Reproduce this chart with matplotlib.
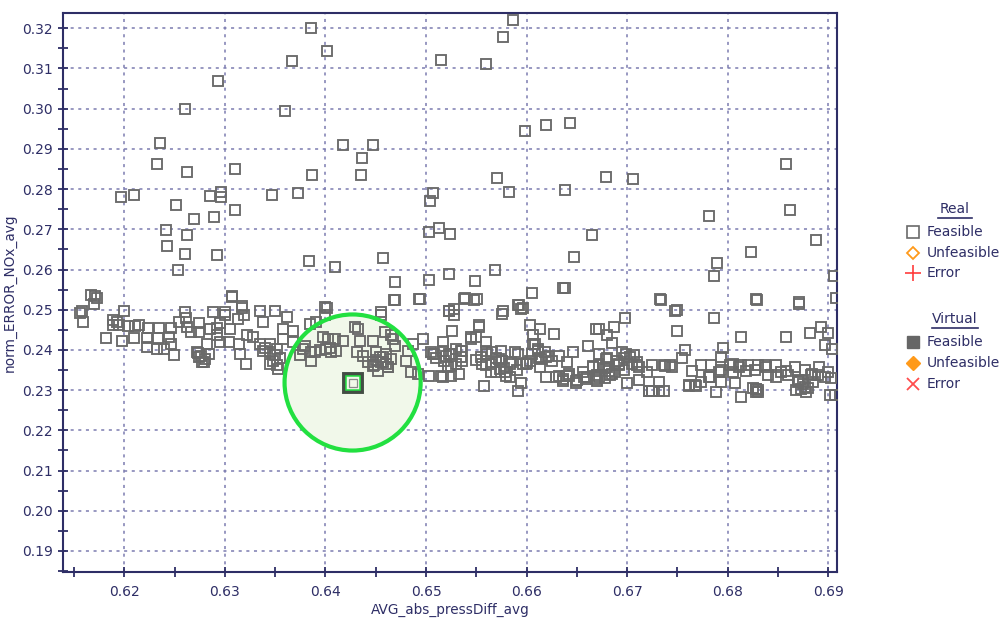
import matplotlib
matplotlib.use("Agg")
import matplotlib.pyplot as plt
from matplotlib.lines import Line2D
from matplotlib.ticker import MultipleLocator, FormatStrFormatter

# ---- data: feasible real designs (AVG_abs_pressDiff_avg, norm_ERROR_NOx_avg) ----
outlier_x = [0.6386, 0.6402, 0.6367, 0.6515, 0.6293, 0.6260, 0.6360, 0.6235, 0.6417, 0.6447,
             0.6436, 0.6232, 0.6262, 0.6310, 0.6387, 0.6435, 0.6197, 0.6210, 0.6251, 0.6269,
             0.6285, 0.6296, 0.6296, 0.6289, 0.6310, 0.6347, 0.6373, 0.6507, 0.6504, 0.6241,
             0.6262, 0.6242, 0.6260, 0.6292, 0.6253, 0.6384, 0.6409, 0.6457, 0.6503, 0.6513,
             0.6524, 0.6523, 0.6503, 0.6469, 0.6468, 0.6494, 0.6307, 0.6317,
             0.6587, 0.6577, 0.6560, 0.6598, 0.6619, 0.6643, 0.6858, 0.6571, 0.6583, 0.6679,
             0.6706, 0.6638, 0.6781, 0.6862, 0.6665, 0.6647, 0.6888, 0.6823, 0.6789, 0.6786,
             0.6569, 0.6549, 0.6539, 0.6551, 0.6605, 0.6638, 0.6592, 0.6596, 0.6734, 0.6829,
             0.6871, 0.6906, 0.6750, 0.6577, 0.6528, 0.6908]
outlier_y = [0.3201, 0.3144, 0.3118, 0.3122, 0.3068, 0.2998, 0.2994, 0.2915, 0.2910, 0.2910,
             0.2877, 0.2862, 0.2843, 0.2851, 0.2835, 0.2835, 0.2780, 0.2786, 0.2760, 0.2726,
             0.2783, 0.2793, 0.2780, 0.2731, 0.2749, 0.2786, 0.2790, 0.2790, 0.2771, 0.2699,
             0.2685, 0.2658, 0.2639, 0.2635, 0.2598, 0.2620, 0.2606, 0.2629, 0.2693, 0.2703,
             0.2688, 0.2589, 0.2575, 0.2568, 0.2523, 0.2527, 0.2534, 0.2509,
             0.3220, 0.3178, 0.3110, 0.2945, 0.2959, 0.2964, 0.2862, 0.2828, 0.2793, 0.2831,
             0.2824, 0.2797, 0.2734, 0.2748, 0.2685, 0.2632, 0.2673, 0.2644, 0.2617, 0.2583,
             0.2598, 0.2572, 0.2530, 0.2527, 0.2542, 0.2553, 0.2511, 0.2504, 0.2523, 0.2523,
             0.2515, 0.2583, 0.2500, 0.2498, 0.2502, 0.2528]

band_x = [0.6167, 0.6171, 0.6173, 0.6170, 0.6156, 0.6159, 0.6200, 0.6189, 0.6193, 0.6195,
          0.6189, 0.6182, 0.6198, 0.6204, 0.6211, 0.6215, 0.6210, 0.6224, 0.6234, 0.6223,
          0.6233, 0.6223, 0.6232, 0.6239, 0.6244, 0.6246, 0.6246, 0.6249, 0.6254, 0.6261,
          0.6262, 0.6266, 0.6274, 0.6274, 0.6272, 0.6274, 0.6279, 0.6284, 0.6282, 0.6285,
          0.6292, 0.6292, 0.6295, 0.6300, 0.6295, 0.6304, 0.6307, 0.6305, 0.6313, 0.6317,
          0.6319, 0.6314, 0.6315, 0.6322, 0.6321, 0.6328, 0.6338, 0.6335, 0.6338, 0.6345,
          0.6345, 0.6350, 0.6352, 0.6353, 0.6358, 0.6362, 0.6358, 0.6368, 0.6368, 0.6378,
          0.6386, 0.6386, 0.6385, 0.6391, 0.6400, 0.6400, 0.6401, 0.6398, 0.6403,
          0.6158, 0.6260, 0.6288, 0.6300, 0.6335, 0.6402, 0.6455, 0.6523,
          0.6273, 0.6276, 0.6280, 0.6277, 0.6340, 0.6345, 0.6350, 0.6355, 0.6348, 0.6352,
          0.6380, 0.6390, 0.6395, 0.6405, 0.6410, 0.6375,
          # around the highlighted design and to the right
          0.6409, 0.6417, 0.6406, 0.6429, 0.6432, 0.6434, 0.6431, 0.6437, 0.6447, 0.6455,
          0.6459, 0.6465, 0.6467, 0.6469, 0.6450, 0.6454, 0.6457, 0.6460, 0.6452, 0.6462,
          0.6447, 0.6469, 0.6493, 0.6480, 0.6487, 0.6482, 0.6485, 0.6492, 0.6497, 0.6503,
          0.6508, 0.6515, 0.6517, 0.6520, 0.6523, 0.6528, 0.6526, 0.6525, 0.6530, 0.6533,
          0.6536, 0.6538, 0.6548, 0.6545, 0.6550, 0.6553, 0.6555, 0.6556, 0.6560, 0.6558,
          0.6566, 0.6570, 0.6570, 0.6575, 0.6576, 0.6576, 0.6580, 0.6584, 0.6588, 0.6591,
          0.6594, 0.6594, 0.6591, 0.6599, 0.6603, 0.6606, 0.6608, 0.6611, 0.6613, 0.6614,
          0.6621, 0.6627, 0.6632, 0.6636, 0.6642, 0.6636, 0.6646, 0.6649, 0.6661, 0.6657,
          0.6666, 0.6669, 0.6669,
          0.6450, 0.6455, 0.6460, 0.6448, 0.6465, 0.6457, 0.6442, 0.6462,
          0.6510, 0.6518, 0.6525, 0.6530, 0.6505, 0.6522, 0.6535,
          0.6550, 0.6560, 0.6570, 0.6578, 0.6585, 0.6565, 0.6590, 0.6600,
          0.6605, 0.6612, 0.6618, 0.6625, 0.6632, 0.6640,
          0.6640, 0.6650, 0.6660, 0.6670, 0.6678, 0.6685,
          0.6507, 0.6517, 0.6523, 0.6525, 0.6517, 0.6535, 0.6536, 0.6545, 0.6553, 0.6560,
          0.6561, 0.6565, 0.6573, 0.6574, 0.6579, 0.6584, 0.6591, 0.6596, 0.6603, 0.6606,
          0.6611, 0.6613, 0.6619, 0.6619, 0.6629, 0.6636, 0.6642, 0.6649, 0.6656, 0.6659,
          0.6666, 0.6672, 0.6679, 0.6682, 0.6692, 0.6699, 0.6705, 0.6712,
          # right part of the band
          0.6733, 0.6748, 0.6828, 0.6871, 0.6698, 0.6687, 0.6672, 0.6680, 0.6685, 0.6750,
          0.6786, 0.6813, 0.6858, 0.6882, 0.6893, 0.6900, 0.6897, 0.6904, 0.6758, 0.6795,
          0.6755, 0.6793, 0.6672, 0.6670, 0.6680, 0.6683, 0.6692, 0.6697, 0.6697, 0.6700,
          0.6707, 0.6710, 0.6712, 0.6720, 0.6725, 0.6725, 0.6732, 0.6737, 0.6743, 0.6737,
          0.6732, 0.6722, 0.6765, 0.6762, 0.6767, 0.6773, 0.6773, 0.6783, 0.6782, 0.6788,
          0.6793, 0.6793, 0.6802, 0.6805, 0.6807, 0.6813, 0.6813, 0.6820, 0.6827, 0.6830,
          0.6828, 0.6830, 0.6837, 0.6840, 0.6848, 0.6853, 0.6860, 0.6867, 0.6870, 0.6873,
          0.6878, 0.6877, 0.6883, 0.6890, 0.6900, 0.6903, 0.6902, 0.6907,
          0.6672, 0.6680, 0.6690, 0.6695, 0.6703, 0.6710, 0.6678, 0.6688,
          0.6870, 0.6875, 0.6880, 0.6868, 0.6885, 0.6825, 0.6830, 0.6828,
          0.6722, 0.6725, 0.6738, 0.6745, 0.6762, 0.6768, 0.6781, 0.6791, 0.6805, 0.6811,
          0.6818, 0.6828, 0.6838, 0.6848, 0.6858, 0.6871, 0.6877, 0.6884, 0.6891, 0.6897]
band_y = [0.2536, 0.2533, 0.2529, 0.2513, 0.2493, 0.2469, 0.2498, 0.2475, 0.2469, 0.2463,
          0.2463, 0.2429, 0.2423, 0.2459, 0.2459, 0.2463, 0.2429, 0.2455, 0.2455, 0.2430,
          0.2430, 0.2407, 0.2403, 0.2403, 0.2432, 0.2455, 0.2415, 0.2388, 0.2469, 0.2479,
          0.2457, 0.2444, 0.2468, 0.2444, 0.2396, 0.2382, 0.2369, 0.2390, 0.2415, 0.2453,
          0.2454, 0.2436, 0.2468, 0.2486, 0.2419, 0.2419, 0.2532, 0.2453, 0.2478, 0.2504,
          0.2486, 0.2415, 0.2390, 0.2436, 0.2365, 0.2432, 0.2469, 0.2415, 0.2398, 0.2415,
          0.2365, 0.2498, 0.2403, 0.2353, 0.2453, 0.2482, 0.2428, 0.2448, 0.2419, 0.2403,
          0.2394, 0.2373, 0.2465, 0.2469, 0.2507, 0.2486, 0.2403, 0.2432, 0.2428,
          0.2497, 0.2495, 0.2495, 0.2495, 0.2497, 0.2505, 0.2495, 0.2497,
          0.2392, 0.2385, 0.2378, 0.2370, 0.2405, 0.2395, 0.2388, 0.2380, 0.2372, 0.2362,
          0.2410, 0.2395, 0.2400, 0.2405, 0.2398, 0.2388,
          0.2428, 0.2423, 0.2394, 0.2457, 0.2453, 0.2423, 0.2394, 0.2386, 0.2423, 0.2486,
          0.2444, 0.2436, 0.2428, 0.2411, 0.2394, 0.2382, 0.2369, 0.2390, 0.2348, 0.2357,
          0.2361, 0.2523, 0.2526, 0.2373, 0.2415, 0.2398, 0.2344, 0.2340, 0.2428, 0.2336,
          0.2390, 0.2336, 0.2419, 0.2386, 0.2498, 0.2486, 0.2448, 0.2361, 0.2403, 0.2340,
          0.2398, 0.2527, 0.2523, 0.2428, 0.2432, 0.2461, 0.2382, 0.2365, 0.2398, 0.2311,
          0.2394, 0.2369, 0.2344, 0.2398, 0.2490, 0.2373, 0.2336, 0.2365, 0.2394, 0.2511,
          0.2503, 0.2319, 0.2298, 0.2365, 0.2461, 0.2436, 0.2415, 0.2403, 0.2453, 0.2378,
          0.2386, 0.2440, 0.2336, 0.2328, 0.2340, 0.2553, 0.2394, 0.2319, 0.2411, 0.2332,
          0.2361, 0.2453, 0.2328,
          0.2375, 0.2370, 0.2365, 0.2362, 0.2378, 0.2383, 0.2370, 0.2358,
          0.2380, 0.2372, 0.2390, 0.2365, 0.2395, 0.2358, 0.2382,
          0.2375, 0.2362, 0.2380, 0.2355, 0.2370, 0.2345, 0.2350, 0.2368,
          0.2390, 0.2380, 0.2395, 0.2372, 0.2385, 0.2370,
          0.2335, 0.2325, 0.2332, 0.2322, 0.2330, 0.2340,
          0.2390, 0.2398, 0.2390, 0.2336, 0.2332, 0.2398, 0.2373, 0.2432, 0.2457, 0.2419,
          0.2390, 0.2365, 0.2378, 0.2353, 0.2344, 0.2332, 0.2390, 0.2365, 0.2373, 0.2415,
          0.2398, 0.2357, 0.2382, 0.2332, 0.2332, 0.2323, 0.2336, 0.2323, 0.2344, 0.2327,
          0.2357, 0.2332, 0.2378, 0.2348, 0.2365, 0.2390, 0.2365, 0.2357,
          0.2527, 0.2498, 0.2527, 0.2518, 0.2479, 0.2458, 0.2452, 0.2438, 0.2417, 0.2447,
          0.2479, 0.2433, 0.2433, 0.2442, 0.2458, 0.2442, 0.2413, 0.2403, 0.2400, 0.2404,
          0.2379, 0.2383, 0.2363, 0.2338, 0.2358, 0.2338, 0.2363, 0.2379, 0.2350, 0.2317,
          0.2388, 0.2363, 0.2325, 0.2346, 0.2363, 0.2298, 0.2321, 0.2363, 0.2363, 0.2298,
          0.2298, 0.2298, 0.2348, 0.2314, 0.2314, 0.2363, 0.2321, 0.2363, 0.2333, 0.2296,
          0.2350, 0.2321, 0.2363, 0.2346, 0.2317, 0.2283, 0.2363, 0.2363, 0.2350, 0.2363,
          0.2304, 0.2296, 0.2363, 0.2338, 0.2363, 0.2346, 0.2338, 0.2358, 0.2321, 0.2304,
          0.2296, 0.2350, 0.2338, 0.2338, 0.2346, 0.2329, 0.2288, 0.2288,
          0.2390, 0.2380, 0.2372, 0.2395, 0.2383, 0.2370, 0.2355, 0.2345,
          0.2325, 0.2315, 0.2305, 0.2300, 0.2320, 0.2305, 0.2300, 0.2296,
          0.2298, 0.2298, 0.2361, 0.2357, 0.2311, 0.2311, 0.2332, 0.2344, 0.2365, 0.2357,
          0.2348, 0.2303, 0.2357, 0.2332, 0.2348, 0.2323, 0.2307, 0.2340, 0.2357, 0.2332]

# selected design
sel_x = [0.6427]
sel_y = [0.2319]

x_ticks = [0.62, 0.63, 0.64, 0.65, 0.66, 0.67, 0.68, 0.69]
y_ticks = [0.19, 0.20, 0.21, 0.22, 0.23, 0.24, 0.25, 0.26, 0.27, 0.28, 0.29, 0.30, 0.31, 0.32]

NAVY = "#2e2e66"
GRID = "#7c7cb0"
GRAY = "#6a6a6a"

fig = plt.figure(figsize=(10.03, 6.21), dpi=100)
ax = fig.add_axes([0.0633, 0.0794, 0.7715, 0.8992])

ax.set_xlim(0.61395, 0.6909)
ax.set_ylim(0.18485, 0.32372)
ax.set_xticks(x_ticks)
ax.set_yticks(y_ticks)
ax.xaxis.set_minor_locator(MultipleLocator(0.005))
ax.yaxis.set_minor_locator(MultipleLocator(0.005))
ax.xaxis.set_major_formatter(FormatStrFormatter("%.2f"))
ax.yaxis.set_major_formatter(FormatStrFormatter("%.2f"))
ax.tick_params(which="both", direction="inout", length=7, width=1.3, color=NAVY,
               labelcolor=NAVY, labelsize=10)
ax.tick_params(axis="x", pad=6)
ax.tick_params(axis="y", pad=4)
for sp in ax.spines.values():
    sp.set_color(NAVY)
    sp.set_linewidth(1.5)
ax.grid(True, which="major", color=GRID, linestyle=(0, (2, 3)), linewidth=1.1)
ax.set_axisbelow(True)

ax.set_xlabel("AVG_abs_pressDiff_avg", color=NAVY, fontsize=9.8, labelpad=3)
ax.set_ylabel("norm_ERROR_NOx_avg", color=NAVY, fontsize=9.8, labelpad=4)

# halo around the selected design (fill below, ring on top)
ax.scatter(sel_x, sel_y, s=9600, marker="o", facecolor="#f1f8ea", edgecolor="none", zorder=1.5)
ax.scatter(sel_x, sel_y, s=9600, marker="o", facecolor="none", edgecolor="#22e040",
           linewidth=3.0, zorder=4)

# feasible designs
ax.plot(outlier_x + band_x, outlier_y + band_y, linestyle="none", marker="s", markersize=6.5,
        markerfacecolor="none", markeredgecolor=GRAY, markeredgewidth=1.35, zorder=3)

# selected design marker
ax.plot(sel_x, sel_y, linestyle="none", marker="s", markersize=12.5, markerfacecolor="#f1f8ea",
        markeredgecolor="#434d44", markeredgewidth=2.8, zorder=5)
ax.plot(sel_x, sel_y, linestyle="none", marker="s", markersize=9.5, markerfacecolor="none",
        markeredgecolor="#22e040", markeredgewidth=1.1, zorder=6)
ax.plot(sel_x, sel_y, linestyle="none", marker="s", markersize=6.0, markerfacecolor="none",
        markeredgecolor="#8a8a8a", markeredgewidth=0.9, zorder=6)

# legend panel
def fx(px):
    return px / 1003.0

def fy(py):
    return 1.0 - py / 621.0

def title(text, cx, cy, half):
    fig.text(fx(cx), fy(cy), text, color=NAVY, fontsize=10, ha="center", va="center")
    fig.add_artist(Line2D([fx(cx - half), fx(cx + half)], [fy(cy + 9), fy(cy + 9)],
                          color=NAVY, linewidth=1.2))

def entry(marker, cy, text, **kw):
    fig.add_artist(Line2D([fx(913)], [fy(cy)], linestyle="none", marker=marker, **kw))
    fig.text(fx(927), fy(cy), text, color=NAVY, fontsize=10, ha="left", va="center")

title("Real", 955, 209, 17)
entry("s", 232, "Feasible", markersize=9, markerfacecolor="none", markeredgecolor=GRAY,
      markeredgewidth=1.2)
entry("D", 253, "Unfeasible", markersize=6.5, markerfacecolor="none", markeredgecolor="#ff9a1a",
      markeredgewidth=1.3)
entry("+", 273, "Error", markersize=11, markeredgecolor="#ff3c3c", markeredgewidth=1.2)

title("Virtual", 955, 319, 23)
entry("s", 342, "Feasible", markersize=9, markerfacecolor="#666666", markeredgecolor="#666666",
      markeredgewidth=1.0)
entry("D", 363, "Unfeasible", markersize=7, markerfacecolor="#ff9a1a", markeredgecolor="#ff9a1a",
      markeredgewidth=1.0)
entry("x", 384, "Error", markersize=9, markeredgecolor="#ff4d4d", markeredgewidth=1.3)

fig.savefig("out.png", dpi=100)
